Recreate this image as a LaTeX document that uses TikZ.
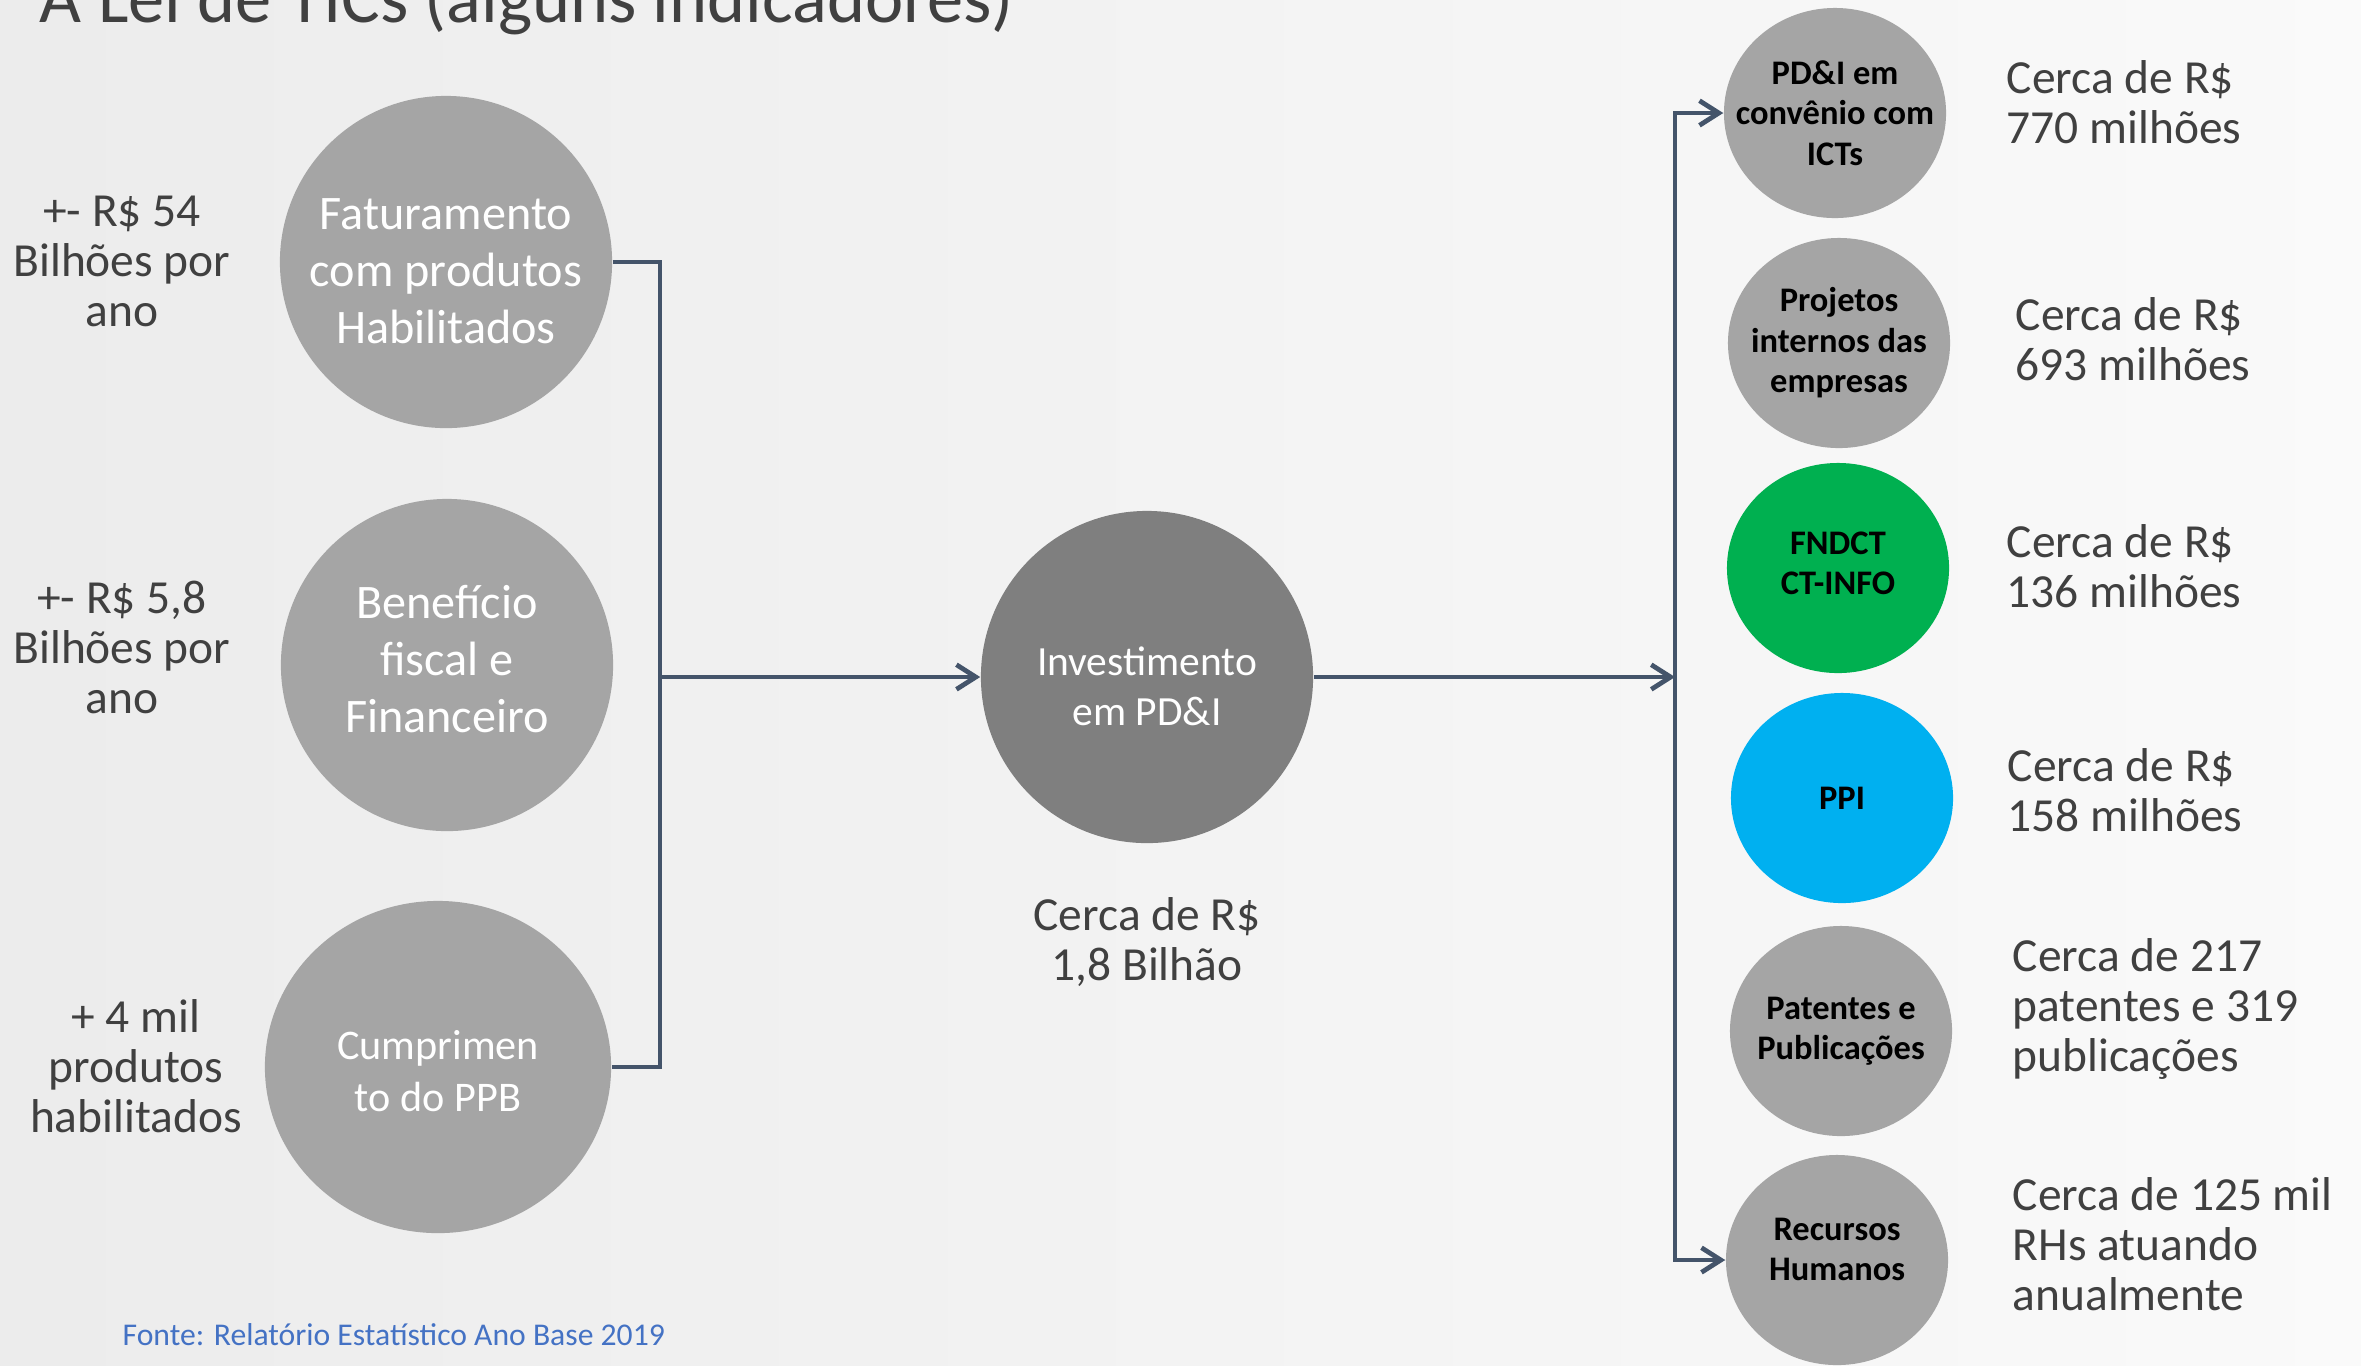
\documentclass[tikz,border=0pt]{standalone}
\usepackage{fontspec}
\setmainfont{Carlito}
\usetikzlibrary{shapes.geometric,arrows.meta,positioning}
\definecolor{circgray}{HTML}{A5A5A5}
\definecolor{invgray}{HTML}{7F7F7F}
\definecolor{fndgreen}{HTML}{00B050}
\definecolor{ppiblue}{HTML}{00B0F0}
\definecolor{linkblue}{HTML}{44546A}
\definecolor{txtgray}{HTML}{404040}
\definecolor{fonteblue}{HTML}{4472C4}
\tikzset{
  bigcirc/.style={circle,fill=circgray,minimum size=3.32cm,inner sep=0pt},
  bigtext/.style={text=white,inner sep=0pt,align=center,font=\fontsize{13.7}{16.2}\selectfont},
  smallcirc/.style={ellipse,fill=circgray,minimum width=2.22cm,minimum height=2.1cm,inner sep=0pt},
  smalltext/.style={inner sep=0pt,align=center,font=\bfseries\fontsize{9.8}{11.5}\selectfont},
  note/.style={text=txtgray,inner sep=0pt,align=center,font=\fontsize{13.5}{14.2}\selectfont},
  value/.style={note,align=left,anchor=west},
  link/.style={draw=linkblue,line width=1.35pt},
  arr/.style={link,-{Straight Barb[length=5.5pt,width=7pt]}}
}
\begin{document}
\begin{tikzpicture}[x=0.01cm,y=-0.01cm]
  \useasboundingbox (0,0) rectangle (2361,1365);
  \shade[left color=gray!15,middle color=white,right color=gray!4] (0,0) rectangle (2361,1365);

  %%% title
  \node[anchor=base west,inner sep=0pt,text=txtgray,font=\fontsize{20.6}{24}\selectfont]
    (title) at (39,22) {A Lei de TICs (alguns indicadores)};

  %%% left side
  \node[bigcirc,label={[bigtext,yshift=-2.6pt]center:Faturamento\\com produtos\\Habilitados}]
    (fat) at (446,262) {};
  \node[bigcirc,label={[bigtext,yshift=1.7pt]center:Benefício\\fiscal e\\Financeiro}]
    (ben) at (447,665) {};
  \node[bigcirc,ellipse,minimum width=3.46cm,minimum height=3.32cm,
    label={[bigtext,yshift=-1.1pt,font=\fontsize{12}{14.7}\selectfont]center:Cumprimen\\to do PPB}]
    (ppb) at (438,1067) {};
  \node[note] (n54) at (122,261) {+- R\$ 54\\Bilhões por\\ano};
  \node[note] (n58) at (122,647) {+- R\$ 5,8\\Bilhões por\\ano};
  \node[note] (n4mil) at (136,1066) {+ 4 mil\\produtos\\habilitados};

  %%% centre
  \node[bigcirc,fill=invgray,
    label={[bigtext,yshift=-2.6pt,font=\fontsize{11.8}{14.2}\selectfont]center:Investimento\\em PD\&I}]
    (inv) at (1147,677) {};
  \node[note] (n18) at (1147,942) {Cerca de R\$\\1,8 Bilhão};

  %%% right side
  \node[smallcirc,label={[smalltext]center:PD\&I em\\convênio com\\ICTs}] (icts) at (1835,113) {};
  \node[smallcirc,label={[smalltext]center:Projetos\\internos das\\empresas}] (proj) at (1839,343) {};
  \node[smallcirc,fill=fndgreen,label={[smalltext,yshift=1.3pt]center:FNDCT\\CT-INFO}] (fndct) at (1838,568) {};
  \node[smallcirc,fill=ppiblue,label={[smalltext]center:PPI}] (ppi) at (1842,798) {};
  \node[smallcirc,label={[smalltext]center:Patentes e\\Publicações}] (pat) at (1841,1031) {};
  \node[smallcirc,label={[smalltext,yshift=3pt]center:Recursos\\Humanos}] (rh) at (1837,1260) {};

  \node[value] (v770) at (2006,102) {Cerca de R\$\\770 milhões};
  \node[value] (v693) at (2015,339) {Cerca de R\$\\693 milhões};
  \node[value] (v136) at (2006,566) {Cerca de R\$\\136 milhões};
  \node[value] (v158) at (2007,790) {Cerca de R\$\\158 milhões};
  \node[value] (v217) at (2012,1009) {Cerca de 217\\patentes e 319\\publicações};
  \node[value] (v125) at (2012,1244) {Cerca de 125 mil\\RHs atuando\\anualmente};

  %%% connectors
  \coordinate (jl) at (660,677);
  \coordinate (jr) at (1675,677);
  \draw[link] (fat.east) -| (jl) |- (ppb.east);
  \draw[arr] (jl) -- (inv.west);
  \draw[arr] (inv.east) -- (jr);
  \draw[arr] (jr) |- (icts.west);
  \draw[arr] (jr) |- (rh.west);

  %%% source
  \node[anchor=base west,inner sep=0pt,text=fonteblue,font=\fontsize{9}{11}\selectfont]
    (src) at (122,1345) {Fonte: Relatório Estatístico Ano Base 2019};
\end{tikzpicture}
\end{document}
